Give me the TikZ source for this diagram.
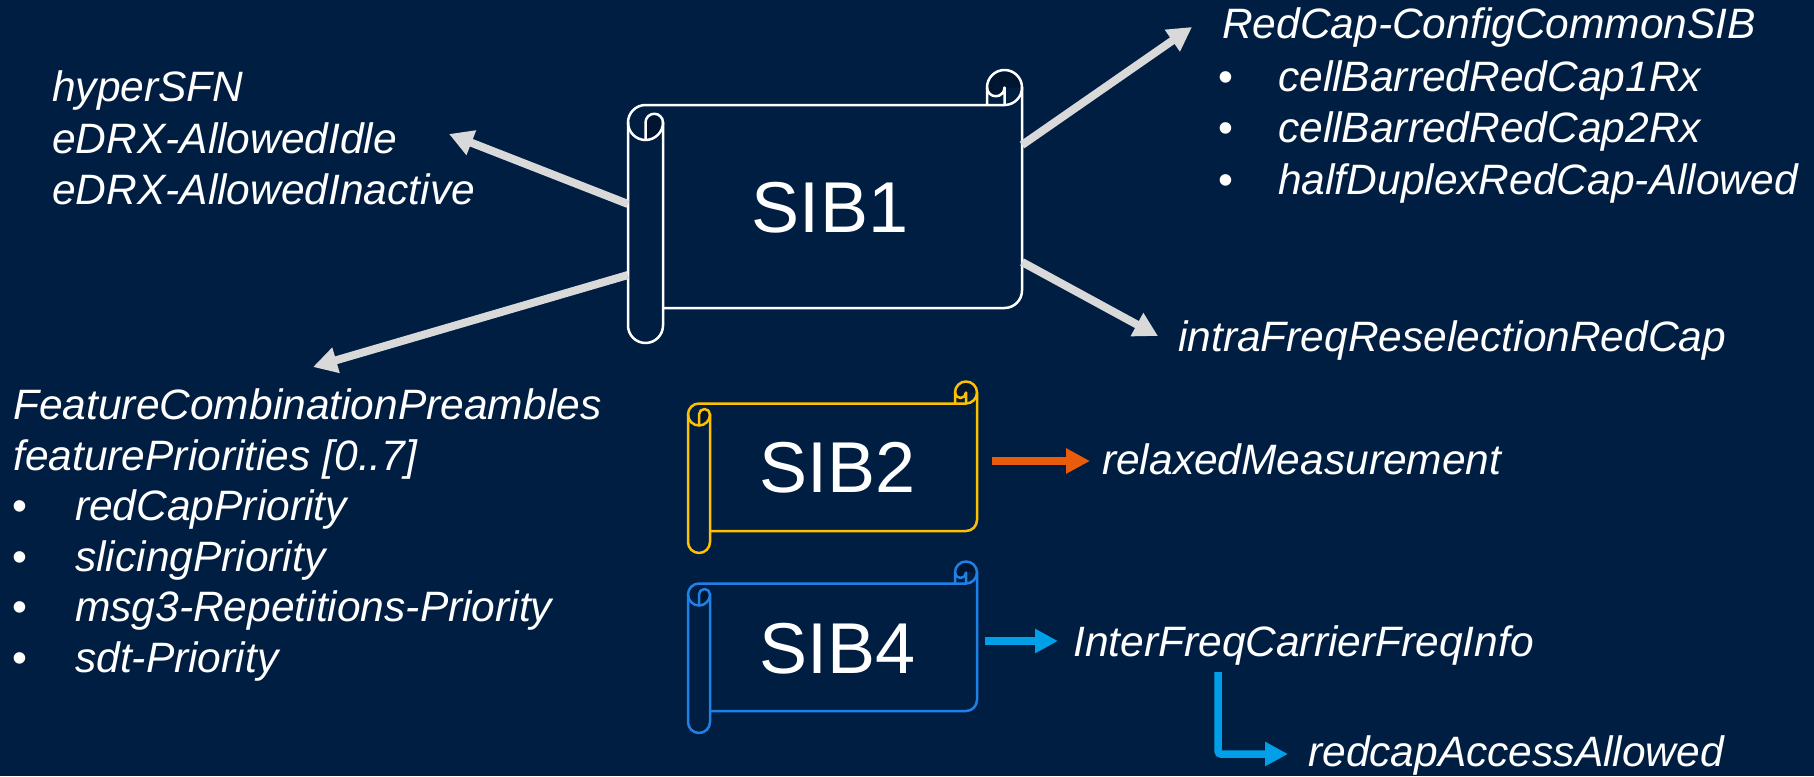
\documentclass[tikz,border=0pt]{standalone}
\usepackage{fontspec}
\setmainfont{Liberation Sans}
\usetikzlibrary{arrows.meta}

\definecolor{bgnavy}{RGB}{0,30,66}
\definecolor{curlshade}{RGB}{0,21,48}
\definecolor{arrowgrey}{RGB}{217,217,217}
\definecolor{sibgold}{RGB}{255,192,0}
\definecolor{sibblue}{RGB}{31,128,230}
\definecolor{arroworange}{RGB}{233,92,12}
\definecolor{arrowcyan}{RGB}{0,160,233}

% Horizontal scroll: #1 left, #2 top, #3 right, #4 bottom (pixel rows, downward),
% #5 roll diameter, #6 outline colour
\newcommand{\scrollshape}[6]{%
  \pgfmathsetmacro{\scrL}{#1}%
  \pgfmathsetmacro{\scrT}{-(#2)}%
  \pgfmathsetmacro{\scrR}{#3}%
  \pgfmathsetmacro{\scrB}{-(#4)}%
  \pgfmathsetmacro{\scrC}{#5}%
  \pgfmathsetmacro{\scrH}{#5/2}%
  \pgfmathsetmacro{\scrQ}{#5/4}%
  \pgfmathsetmacro{\scrXa}{\scrL+\scrH}%
  \pgfmathsetmacro{\scrXb}{\scrL+\scrC}%
  \pgfmathsetmacro{\scrXc}{\scrR-\scrH}%
  \pgfmathsetmacro{\scrXd}{\scrR-\scrC}%
  \pgfmathsetmacro{\scrYa}{\scrT-1.5*\scrC}%
  \pgfmathsetmacro{\scrYb}{\scrT-2*\scrC}%
  \pgfmathsetmacro{\scrYc}{\scrT-\scrC}%
  \pgfmathsetmacro{\scrYd}{\scrB+\scrC}%
  \pgfmathsetmacro{\scrYe}{\scrB+\scrH}%
  \pgfmathsetmacro{\scrYf}{\scrB+\scrC+\scrH}%
  \pgfmathsetmacro{\scrYg}{\scrT-\scrH}%
  % shaded insides of the two curls
  \fill[curlshade] (\scrXd,\scrYg) arc[start angle=180,end angle=0,radius=\scrH]
        -- (\scrXc,\scrYg) arc[start angle=0,end angle=-180,radius=\scrQ] -- cycle;
  \fill[curlshade] (\scrXa,\scrYa) arc[start angle=180,end angle=0,radius=\scrQ]
        arc[start angle=0,end angle=-90,radius=\scrH] -- cycle;
  % outline
  \draw[scrollline,draw=#6] (\scrL,\scrYa) arc[start angle=180,end angle=90,radius=\scrH]
        -- (\scrXc,\scrYc) arc[start angle=270,end angle=540,radius=\scrH] -- (\scrXd,\scrYc);
  \draw[scrollline,draw=#6] (\scrR,\scrYg) -- (\scrR,\scrYf)
        arc[start angle=0,end angle=-90,radius=\scrH] -- (\scrXb,\scrYd);
  \draw[scrollline,draw=#6] (\scrL,\scrYa) -- (\scrL,\scrYe)
        arc[start angle=180,end angle=360,radius=\scrH] -- (\scrXb,\scrYa);
  \draw[scrollline,draw=#6] (\scrL,\scrYa) arc[start angle=180,end angle=360,radius=\scrH];
  \draw[scrollline,draw=#6] (\scrXa,\scrYb) -- (\scrXa,\scrYa)
        arc[start angle=180,end angle=0,radius=\scrQ];
  \draw[scrollline,draw=#6] (\scrXd,\scrYg) arc[start angle=180,end angle=360,radius=\scrQ]
        -- (\scrXc,\scrYc);
}

\begin{document}
\begin{tikzpicture}[x=1pt,y=1pt,
  scrollline/.style={line width=2.5pt,line join=round,line cap=round},
  lbl/.style={anchor=base west,inner sep=0pt,text=white,
              font=\itshape\fontsize{42.5}{51}\selectfont},
  sibtext/.style={anchor=center,inner sep=0pt,text=white,
              font=\fontsize{72}{80}\selectfont},
  greyarrow/.style={draw=arrowgrey,line width=8pt,
              -{Triangle[length=24pt,width=25pt]}},
  orangearrow/.style={draw=arroworange,line width=8pt,
              -{Triangle[length=24pt,width=24pt]}},
  cyanarrow/.style={draw=arrowcyan,line width=7.5pt,
              -{Triangle[length=23pt,width=23pt]}},
]
\useasboundingbox (0,0) rectangle (1814,-776);
\fill[bgnavy] (0,0) rectangle (1814,-776);

% the three system information blocks
\scrollshape{628}{70}{1022}{343}{35}{white}
\scrollshape{688}{381.5}{977}{553}{22}{sibgold}
\scrollshape{688}{561.5}{977}{733}{22}{sibblue}

\node[sibtext] (sib1) at (830,-208) {SIB1};
\node[sibtext] (sib2) at (837.5,-467.5) {SIB2};
\node[sibtext] (sib4) at (837.5,-649) {SIB4};

% upper left list
\node[lbl] (hsfn)  at (52,-101) {hyperSFN};
\node[lbl] (edrxi) at (52,-153) {eDRX-AllowedIdle};
\node[lbl] (edrxn) at (52,-204) {eDRX-AllowedInactive};

% upper right list
\node[lbl] (rccfg) at (1222,-39) {RedCap-ConfigCommonSIB};
\node[lbl] (cb1)   at (1278,-91)  {\llap{\makebox[59.4pt][l]{\upshape •}}cellBarredRedCap1Rx};
\node[lbl] (cb2)   at (1278,-142) {\llap{\makebox[59.4pt][l]{\upshape •}}cellBarredRedCap2Rx};
\node[lbl] (hdx)   at (1278,-194) {\llap{\makebox[59.4pt][l]{\upshape •}}halfDuplexRedCap-Allowed};

\node[lbl] (intra) at (1178,-351) {intraFreqReselectionRedCap};

% lower left list
\node[lbl] (fcp)   at (13,-419) {FeatureCombinationPreambles};
\node[lbl] (fpri)  at (13,-470) {featurePriorities [0..7]};
\node[lbl] (p1)    at (75,-520) {\llap{\makebox[63pt][l]{\upshape •}}redCapPriority};
\node[lbl] (p2)    at (75,-571) {\llap{\makebox[63pt][l]{\upshape •}}slicingPriority};
\node[lbl] (p3)    at (75,-621) {\llap{\makebox[63pt][l]{\upshape •}}msg3-Repetitions-Priority};
\node[lbl] (p4)    at (75,-672) {\llap{\makebox[63pt][l]{\upshape •}}sdt-Priority};

\node[lbl] (relax) at (1102,-474) {relaxedMeasurement};
\node[lbl] (ifcfi) at (1073,-656) {InterFreqCarrierFreqInfo};
\node[lbl] (rcaa)  at (1308,-766) {redcapAccessAllowed};

% connector end points
\coordinate (t1) at (628,-204);
\coordinate (h1) at (449,-134);
\coordinate (t2) at (628,-275);
\coordinate (h2) at (313,-367);
\coordinate (t3) at (1022,-145);
\coordinate (h3) at (1192,-27);
\coordinate (t4) at (1022,-262);
\coordinate (h4) at (1158,-336);
\coordinate (t5) at (992,-461);
\coordinate (h5) at (1090,-461);
\coordinate (t6) at (985,-641);
\coordinate (h6) at (1058,-641);
\coordinate (t7) at (1218,-672);
\coordinate (k7) at (1218,-754);
\coordinate (h7) at (1288,-754);

\draw[greyarrow] (t1) -- (h1);
\draw[greyarrow] (t2) -- (h2);
\draw[greyarrow] (t3) -- (h3);
\draw[greyarrow] (t4) -- (h4);
\draw[orangearrow] (t5) -- (h5);
\draw[cyanarrow] (t6) -- (h6);
\draw[cyanarrow,rounded corners=3pt] (t7) -- (k7) -- (h7);
\end{tikzpicture}
\end{document}
